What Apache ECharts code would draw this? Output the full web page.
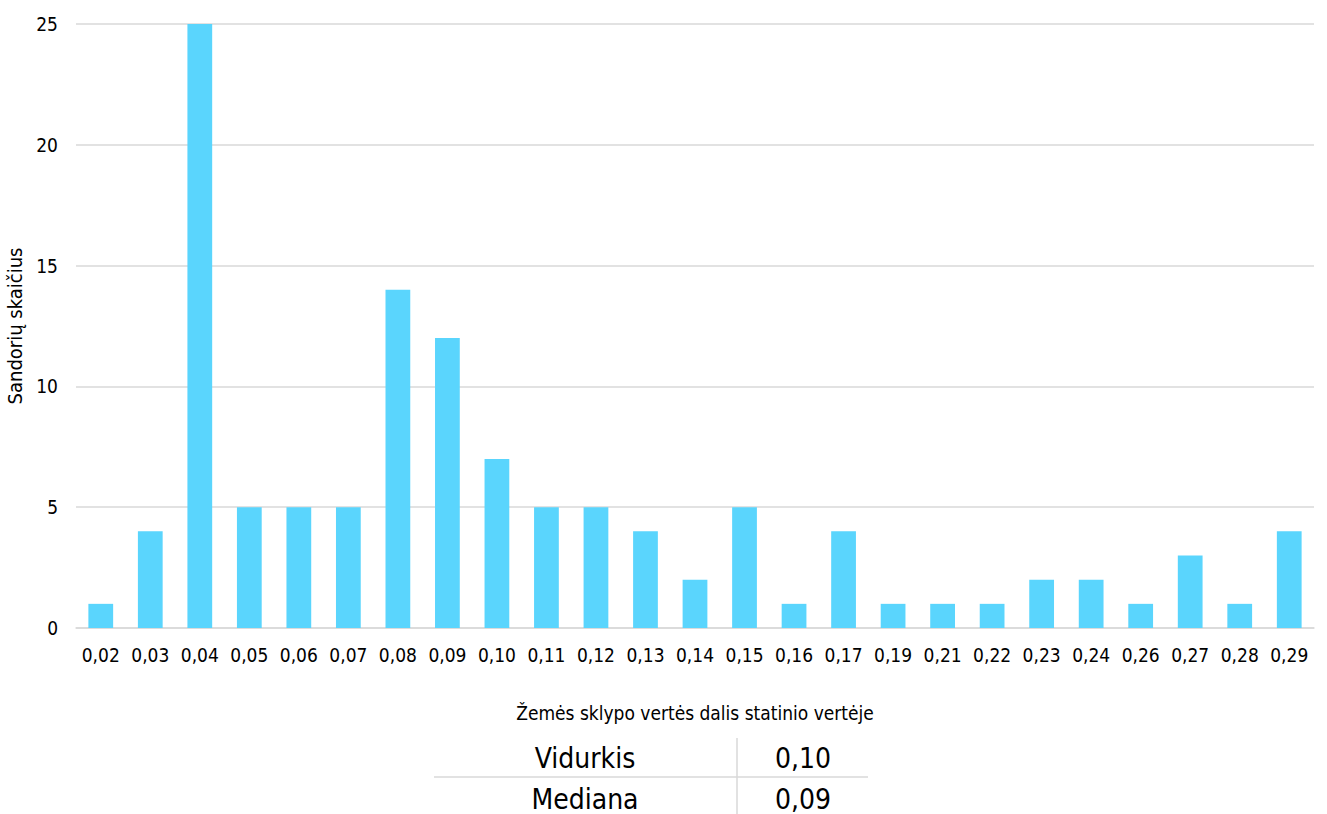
<!DOCTYPE html>
<html><head><meta charset="utf-8">
<script src="https://cdn.jsdelivr.net/npm/echarts@6/dist/echarts.min.js"></script>
<style>html,body{margin:0;padding:0;background:#fff}#c{width:1327px;height:814px}</style>
</head><body><div id="c"></div>
<script>
const categories = ['0,02','0,03','0,04','0,05','0,06','0,07','0,08','0,09','0,10','0,11','0,12','0,13','0,14','0,15','0,16','0,17','0,19','0,21','0,22','0,23','0,24','0,26','0,27','0,28','0,29'];
const counts = [1,4,25,5,5,5,14,12,7,5,5,4,2,5,1,4,1,1,1,2,2,1,3,1,4];
const yTicks = [0,5,10,15,20,25];
const statLabels = ['Vidurkis','Mediana'];
const statValues = ['0,10','0,09'];
const xTitle = 'Žemės sklypo vertės dalis statinio vertėje';
const yTitle = 'Sandorių skaičius';

const FONT = '"DejaVu Sans Condensed", "DejaVu Sans", sans-serif';
const chart = echarts.init(document.getElementById('c'), null, {renderer:'svg'});
const graphic = [];
graphic.push({type:'line', shape:{x1:434,y1:777,x2:868,y2:777}, style:{stroke:'#d9d9d9', lineWidth:1.5}});
graphic.push({type:'line', shape:{x1:737,y1:738,x2:737,y2:814}, style:{stroke:'#d9d9d9', lineWidth:1.5}});
statLabels.forEach((s,i)=>{
  graphic.push({type:'text', x:585, y:758+i*41, style:{text:s, font:'28px '+FONT, fill:'#000', align:'center', verticalAlign:'middle'}});
  graphic.push({type:'text', x:803, y:758+i*41, style:{text:statValues[i], font:'28px '+FONT, fill:'#000', align:'center', verticalAlign:'middle'}});
});
chart.setOption({
  animation:false,
  textStyle:{fontFamily:FONT},
  grid:{left:76, right:13, top:24, bottom:186, containLabel:false, outerBoundsMode:'none'},
  xAxis:{type:'category', data:categories,
    axisLine:{show:true, lineStyle:{color:'#d9d9d9', width:1.5}},
    axisTick:{show:false},
    axisLabel:{color:'#000', fontSize:19, margin:17, interval:0},
    name:xTitle, nameLocation:'middle', nameGap:75,
    nameTextStyle:{color:'#000', fontSize:19}
  },
  yAxis:{type:'value', min:0, max:25, interval:5,
    axisLine:{show:false}, axisTick:{show:false},
    splitLine:{lineStyle:{color:'#d9d9d9', width:1.5}},
    axisLabel:{color:'#000', fontSize:19, margin:18, formatter:v=>yTicks.includes(v)?String(v):''},
    name:yTitle, nameLocation:'middle', nameGap:44, nameRotate:90,
    nameTextStyle:{color:'#000', fontSize:20}
  },
  series:[{type:'bar', data:counts, barWidth:'50%', itemStyle:{color:'#5ad5fd'}}],
  graphic:graphic
});
</script></body></html>
